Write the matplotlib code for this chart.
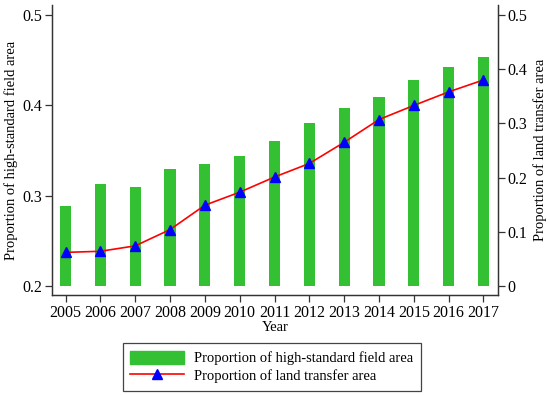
import matplotlib.pyplot as plt
from matplotlib.patches import Patch
from matplotlib.lines import Line2D

# data
years = [2005, 2006, 2007, 2008, 2009, 2010, 2011, 2012, 2013, 2014, 2015, 2016, 2017]
high_std = [0.289, 0.313, 0.310, 0.329, 0.335, 0.344, 0.361, 0.380, 0.397, 0.409, 0.428, 0.442, 0.454]
land_transfer = [0.062, 0.064, 0.074, 0.104, 0.149, 0.173, 0.201, 0.226, 0.265, 0.307, 0.333, 0.358, 0.380]
left_ticks = [0.2, 0.3, 0.4, 0.5]
right_ticks = [0, 0.1, 0.2, 0.3, 0.4, 0.5]

plt.rcParams['font.family'] = ['Liberation Serif', 'DejaVu Serif']
plt.rcParams['font.size'] = 11.5

fig = plt.figure(figsize=(5.5, 3.95), dpi=100)
ax = fig.add_axes([0.0945, 0.2532, 0.8105, 0.7338])
ax2 = ax.twinx()

green = '#33c033'
ax.bar(years, [v - 0.2 for v in high_std], bottom=0.2, width=0.32, color=green, zorder=2)
ax2.plot(years, land_transfer, color='red', lw=1.2, marker='^', mfc='blue', mec='blue',
         ms=6.5, zorder=3)

ax.set_xlim(2004.61, 2017.41)
ax.set_ylim(0.19, 0.511)
ax2.set_ylim(-0.0166, 0.518)
ax.set_xticks(years)
ax.set_yticks(left_ticks)
ax.set_yticklabels(['0.2', '0.3', '0.4', '0.5'])
ax2.set_yticks(right_ticks)
ax2.set_yticklabels(['0', '0.1', '0.2', '0.3', '0.4', '0.5'])

lab = 10.5
ax.set_xlabel('Year', fontsize=lab, labelpad=0)
ax.set_ylabel('Proportion of high-standard field area', fontsize=lab, labelpad=3)
ax2.set_ylabel('Proportion of land transfer area', fontsize=lab, labelpad=4)

for a in (ax, ax2):
    a.spines['top'].set_visible(False)
    for s in ('left', 'right', 'bottom'):
        a.spines[s].set_color('#333333')
        a.spines[s].set_linewidth(0.9)
    a.tick_params(direction='out', length=5, width=0.9, color='#333333', pad=2)
ax.set_zorder(ax2.get_zorder() - 1)
ax2.patch.set_visible(False)
ax.patch.set_visible(False)

handles = [Patch(color=green),
           Line2D([], [], color='red', lw=1.2, marker='^', mfc='blue', mec='blue', ms=6.5)]
labels = ['Proportion of high-standard field area', 'Proportion of land transfer area']
leg = fig.legend(handles, labels, loc='upper left', bbox_to_anchor=(0.223, 0.131),
                 ncol=1, fancybox=False, framealpha=1, edgecolor='#444444', fontsize=lab,
                 handlelength=3.7, handleheight=1.0, borderpad=0.5, labelspacing=0.25,
                 handletextpad=0.7, borderaxespad=0)
leg.get_frame().set_linewidth(0.9)

fig.savefig('out.png', dpi=100)
